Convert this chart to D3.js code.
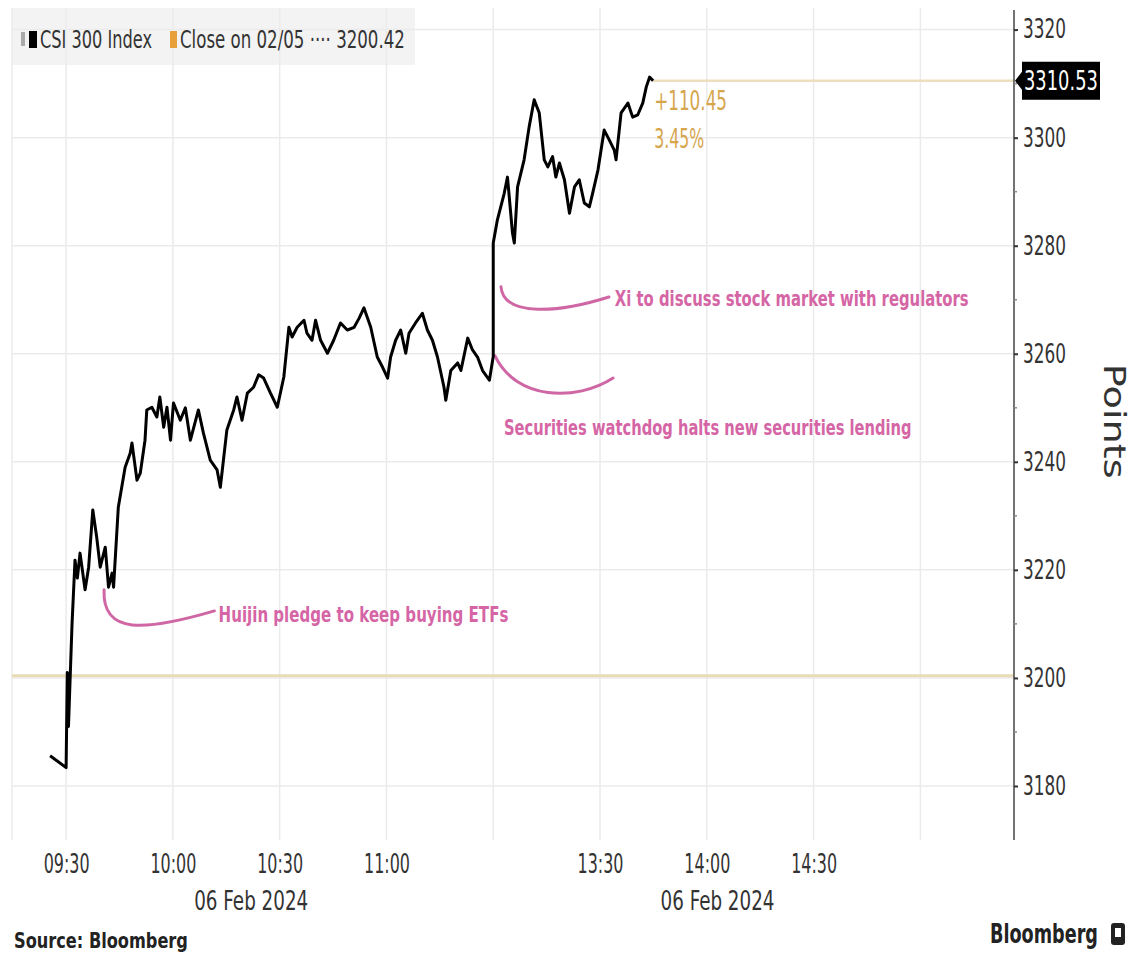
<!DOCTYPE html>
<html><head><meta charset="utf-8">
<script src="https://cdn.jsdelivr.net/npm/d3@7"></script>
<style>
html,body{margin:0;padding:0;background:#fff;}
svg{display:block;}
text{font-family:"DejaVu Sans",sans-serif;}
</style></head><body>
<svg id="chart" width="1131" height="958"></svg>
<script>
// ---------------- data ----------------
const seriesName = "CSI 300 Index";
const prevCloseName = "Close on 02/05 \u00b7\u00b7\u00b7\u00b7 3200.42";
const prevClose = 3200.42;
const lastValueLabel = "3310.53";
const changeLabel = "+110.45";
const changePctLabel = "3.45%";
const sourceLabel = "Source: Bloomberg";
const yAxisTitle = "Points";

const times = [
"09:25:30","09:30:00","09:30:20","09:30:40","09:31:05","09:31:40","09:32:30","09:33:10","09:33:55","09:35:20",
"09:36:20","09:37:30","09:38:35","09:39:35","09:41:00","09:41:55","09:42:55","09:43:20","09:44:40","09:46:35",
"09:48:00","09:48:30","09:49:55","09:50:50","09:52:10","09:52:40","09:54:05","09:55:30","09:56:20","09:57:25",
"09:58:20","09:59:20","10:00:10","10:02:05","10:03:30","10:04:55","10:07:10","10:08:35","10:10:30","10:12:25",
"10:13:20","10:15:10","10:17:05","10:18:00","10:19:25","10:20:55","10:22:40","10:24:05","10:25:30","10:27:25",
"10:29:20","10:31:10","10:32:35","10:33:30","10:34:55","10:36:50","10:37:40","10:39:05","10:40:05","10:41:30",
"10:43:25","10:45:10","10:47:05","10:49:00","10:50:55","10:52:20","10:53:40","10:55:35","10:57:25","10:58:55",
"11:00:20","11:01:10","11:02:35","11:04:00","11:05:25","11:06:20","11:08:10","11:10:05","11:11:30","11:12:55",
"11:14:20","11:16:10","11:16:40","11:18:05","11:20:00","11:20:55","11:22:50","11:24:10","11:25:35","11:27:00",
"11:28:55","11:30:00",
"13:00:00","13:01:10","13:03:05","13:04:00","13:05:25","13:05:55","13:06:50","13:08:40","13:10:05","13:11:30",
"13:12:55","13:14:20","13:15:20","13:16:40","13:17:35","13:18:35","13:20:00","13:21:25","13:22:50","13:24:10",
"13:25:35","13:27:00","13:27:55","13:29:25","13:31:10","13:32:35","13:34:00","13:34:30","13:35:55","13:37:50",
"13:39:10","13:40:35","13:42:00","13:43:00","13:43:55","13:44:55"
];
const values = [
3185.6,3183.4,3201.0,3191.0,3199.0,3210.0,3221.8,3218.5,3223.1,3216.3,
3220.5,3231.1,3226.1,3220.5,3224.2,3216.8,3219.4,3216.8,3231.6,3239.0,
3241.6,3243.5,3236.6,3237.9,3244.0,3249.6,3250.1,3248.3,3252.0,3246.4,
3250.1,3244.0,3250.9,3247.7,3250.0,3244.0,3249.6,3245.3,3240.3,3238.5,
3235.3,3245.9,3249.6,3252.0,3247.7,3252.7,3253.8,3256.1,3255.5,3252.7,
3250.1,3255.7,3264.9,3263.1,3264.9,3266.2,3263.8,3262.5,3266.2,3262.5,
3260.1,3262.5,3265.7,3264.4,3264.9,3266.6,3268.5,3264.9,3259.4,3257.5,
3255.5,3259.4,3262.5,3264.4,3260.1,3263.8,3265.7,3267.5,3264.4,3262.5,
3259.4,3253.8,3251.4,3256.9,3258.3,3256.9,3262.9,3260.7,3259.4,3256.9,
3255.1,3259.5,
3280.5,3284.8,3289.7,3292.7,3282.3,3280.5,3290.9,3295.9,3302.0,3307.0,
3304.6,3295.9,3294.6,3296.5,3292.7,3295.3,3292.2,3286.0,3290.9,3292.2,
3287.9,3287.2,3289.7,3294.0,3301.4,3299.6,3297.7,3295.9,3304.6,3306.4,
3303.8,3304.2,3306.4,3309.4,3311.2,3310.53
];

const yTicks = [3180,3200,3220,3240,3260,3280,3300,3320];
const yMinorTicks = [3190,3210,3230,3250,3270,3290,3310];
const xTickLabels = ["09:30","10:00","10:30","11:00","13:30","14:00","14:30"];
const xGridTimes = ["09:30","10:00","10:30","11:00","11:30","13:30","14:00","14:30","15:00"];
const dateLabelTimes = ["10:22","14:03"];
const dateLabelTexts = ["06 Feb 2024","06 Feb 2024"];

// annotations: label, curve (start, ctrl1, ctrl2, end) as [time, value], label anchor [time, value]
const annotationLabels = [
  "Huijin pledge to keep buying ETFs",
  "Securities watchdog halts new securities lending",
  "Xi to discuss stock market with regulators"
];
const annotationCurves = [
  [["09:40:40",3216.3],["09:40:05",3208.0],["09:52:00",3208.6],["10:11:40",3212.4]],
  [["13:00:30",3259.6],["13:06:25",3251.4],["13:23:20",3251.1],["13:33:40",3255.5]],
  [["13:02:10",3272.4],["13:03:00",3266.6],["13:19:00",3267.7],["13:32:30",3270.5]]
];
const annotationTextPos = [["10:12:50",3210.4],["13:03:00",3245.0],["13:34:10",3268.9]];

// ---------------- helpers ----------------
function tradingMinute(s){
  const p = s.split(":").map(Number);
  const m = p[0]*60 + p[1] + (p[2]||0)/60;
  if (m <= 690) return m - 570;        // morning session from 09:30
  if (m >= 780) return m - 780 + 120;  // afternoon session from 13:00
  return 120;
}
// squeeze a text horizontally to a target width (the reference glyphs are narrow)
function fit(sel, w){
  const node = sel.node();
  const nat = node.getComputedTextLength();
  const sx = w / nat;
  const x0 = +(sel.attr("x") || 0);
  const pre = sel.attr("transform") || "";
  sel.attr("x", 0).attr("transform", `${pre} translate(${x0},0) scale(${sx},1)`);
  return sel;
}

const data = times.map((t,i)=>({t:tradingMinute(t), v:values[i]}));

const svg = d3.select("#chart");
const x = d3.scaleLinear().domain([-15.2, 266.3]).range([12, 1014]);
const y = d3.scaleLinear().domain([3170, 3324]).range([840, 8]);

const gridColor = "#ebebeb";
// legend background
svg.append("rect").attr("x",12).attr("y",8).attr("width",403).attr("height",57).attr("fill","#f3f3f3");

// left border
svg.append("line").attr("x1",12).attr("x2",12).attr("y1",8).attr("y2",840)
  .attr("stroke",gridColor).attr("stroke-width",1.5);

// horizontal gridlines
svg.append("g").selectAll("line").data(yTicks).join("line")
  .attr("x1",12).attr("x2",1014).attr("y1",d=>y(d)).attr("y2",d=>y(d))
  .attr("stroke",gridColor).attr("stroke-width",1.5);
// vertical gridlines
svg.append("g").selectAll("line").data(xGridTimes).join("line")
  .attr("x1",d=>x(tradingMinute(d))).attr("x2",d=>x(tradingMinute(d)))
  .attr("y1",8).attr("y2",840)
  .attr("stroke",gridColor).attr("stroke-width",1.5);

// previous close line
svg.append("line").attr("x1",12).attr("x2",1014).attr("y1",y(prevClose)).attr("y2",y(prevClose))
  .attr("stroke","#e8dbb6").attr("stroke-width",3);
// last value line
const last = data[data.length-1];
svg.append("line").attr("x1",x(last.t)).attr("x2",1014).attr("y1",y(last.v)).attr("y2",y(last.v))
  .attr("stroke","#ecdfbd").attr("stroke-width",2.5);

// annotations
const pink = "#c9579a";
annotationCurves.forEach((c,i)=>{
  const P = c.map(p=>[x(tradingMinute(p[0])), y(p[1])]);
  const path = d3.path();
  path.moveTo(P[0][0],P[0][1]);
  path.bezierCurveTo(P[1][0],P[1][1],P[2][0],P[2][1],P[3][0],P[3][1]);
  svg.append("path").attr("d",path.toString()).attr("fill","none")
    .attr("stroke",pink).attr("stroke-width",3).attr("stroke-linecap","round").attr("opacity",0.9);
});
const annWidths = [290, 408, 354];
annotationLabels.forEach((lab,i)=>{
  const p = annotationTextPos[i];
  fit(svg.append("text").attr("x",x(tradingMinute(p[0]))).attr("y",y(p[1]))
    .attr("font-size",22).attr("font-weight","bold").attr("fill","#d565a5").text(lab), annWidths[i]);
});

// main line
const line = d3.line().x(d=>x(d.t)).y(d=>y(d.v));
svg.append("path").datum(data).attr("d",line).attr("fill","none")
  .attr("stroke","#000").attr("stroke-width",3).attr("stroke-linejoin","round");

// change labels
fit(svg.append("text").attr("x",x(last.t)+1).attr("y",y(last.v)+29).attr("font-size",27)
  .attr("fill","#d6a54c").text(changeLabel), 73);
fit(svg.append("text").attr("x",x(last.t)+1).attr("y",y(last.v)+67).attr("font-size",27)
  .attr("fill","#d6a54c").text(changePctLabel), 50);

// y axis
const yAxis = d3.axisRight(y).tickValues(yTicks).tickSize(4).tickPadding(5).tickFormat(d3.format("d"));
const gy = svg.append("g").attr("transform","translate(1014,0)").call(yAxis);
gy.select(".domain").attr("d","M0,10V840").attr("stroke","#444").attr("stroke-width",1.5);
gy.selectAll(".tick line").attr("stroke","#333").attr("stroke-width",2);
gy.selectAll(".tick text").attr("font-size",26).attr("fill","#333").attr("font-family","DejaVu Sans")
  .each(function(){ fit(d3.select(this), 43); });
svg.append("g").selectAll("line").data(yMinorTicks).join("line")
  .attr("x1",1014).attr("x2",1017).attr("y1",d=>y(d)).attr("y2",d=>y(d))
  .attr("stroke","#888").attr("stroke-width",1.5);

// last value tag
const yl = y(last.v);
svg.append("path").attr("d",`M1015,${yl}L1022,${yl-9}L1022,${yl-19}L1100,${yl-19}L1100,${yl+19}L1022,${yl+19}L1022,${yl+9}Z`)
  .attr("fill","#000");
fit(svg.append("text").attr("x",1024).attr("y",yl+9).attr("font-size",26).attr("fill","#fff").text(lastValueLabel), 74);

// axis title
fit(svg.append("text").attr("transform",`translate(1104,${y(3247.5)}) rotate(90)`)
  .attr("text-anchor","middle").attr("font-size",30).attr("fill","#333").text(yAxisTitle), 115);

// x axis
const xAxis = d3.axisBottom(x).tickValues(xTickLabels.map(tradingMinute)).tickSize(0).tickPadding(14)
  .tickFormat((d,i)=>xTickLabels[i]);
const gx = svg.append("g").attr("transform","translate(0,840)").call(xAxis);
gx.select(".domain").remove();
gx.selectAll(".tick text").attr("font-size",27).attr("fill","#333").attr("font-family","DejaVu Sans")
  .each(function(){ fit(d3.select(this), 46); });
dateLabelTexts.forEach((t,i)=>{
  fit(svg.append("text").attr("x",x(tradingMinute(dateLabelTimes[i]))).attr("y",910)
    .attr("text-anchor","middle").attr("font-size",27).attr("fill","#333").text(t), 114);
});

// legend
svg.append("rect").attr("x",21).attr("y",32).attr("width",4).attr("height",14).attr("fill","#aaa");
svg.append("rect").attr("x",29).attr("y",31).attr("width",8).attr("height",17).attr("fill","#000");
fit(svg.append("text").attr("x",40).attr("y",48).attr("font-size",25).attr("fill","#333").text(seriesName), 112);
svg.append("rect").attr("x",170).attr("y",31).attr("width",7).attr("height",17).attr("fill","#e8a03a");
fit(svg.append("text").attr("x",180).attr("y",48).attr("font-size",25).attr("fill","#333").text(prevCloseName), 225);

// footer
fit(svg.append("text").attr("x",14).attr("y",948).attr("font-size",21).attr("font-weight","bold")
  .attr("fill","#222").text(sourceLabel), 174);
fit(svg.append("text").attr("x",990).attr("y",943).attr("font-size",26).attr("font-weight","bold")
  .attr("fill","#222").text("Bloomberg"), 108);
svg.append("rect").attr("x",1111).attr("y",923).attr("width",14).attr("height",22).attr("rx",3).attr("fill","#222");
svg.append("rect").attr("x",1115).attr("y",928).attr("width",6).attr("height",9).attr("fill","#fff");
</script>
</body></html>
